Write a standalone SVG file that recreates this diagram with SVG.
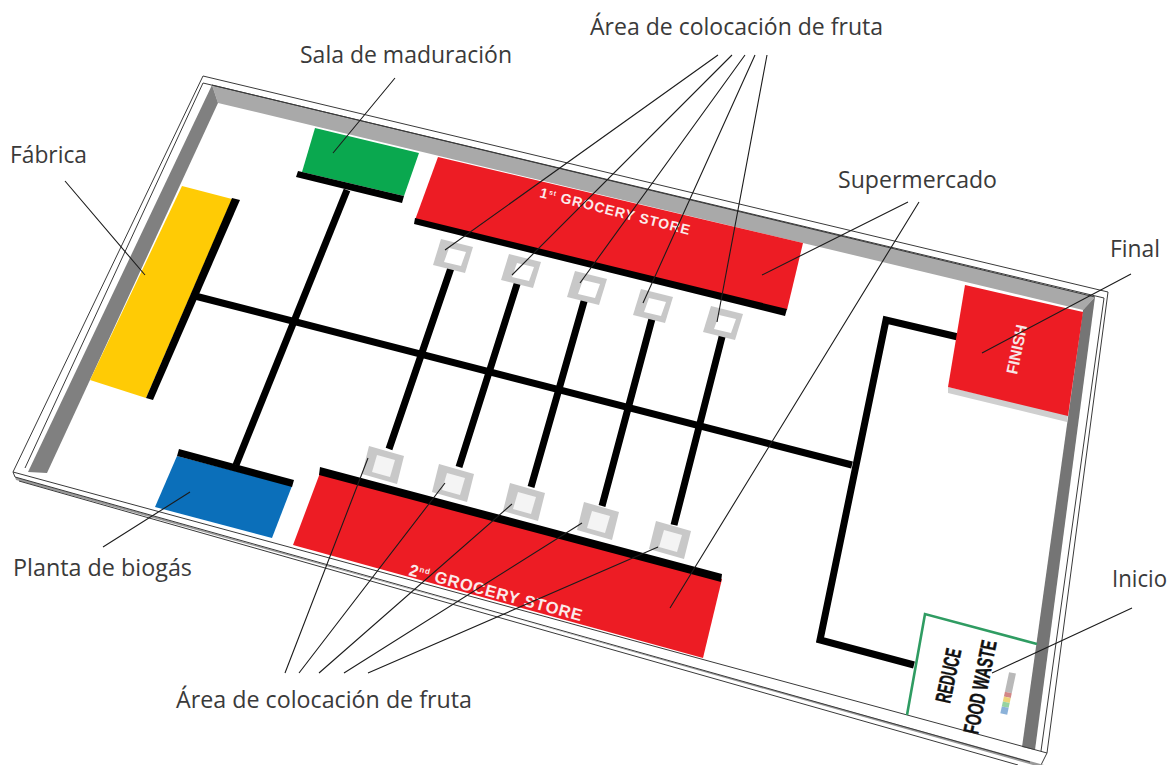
<svg xmlns="http://www.w3.org/2000/svg" width="1173" height="765" viewBox="0 0 1173 765">
<style>
.lab{font-family:"Open Sans","Noto Sans",sans-serif;font-size:23px;fill:#3a3a3a}
.edge{stroke:#3a3a3a;stroke-width:1;fill:none}
.track{stroke:#000;stroke-width:7;fill:none;stroke-linejoin:miter}
.lead{stroke:#1c1c1c;stroke-width:1.1;fill:none}
.strip{fill:#000}
.red{fill:#ed1c24}
.store{font-family:"Liberation Sans",Arial,sans-serif;font-weight:bold;fill:#fbeaea}
.cond{font-family:"Liberation Sans",Arial,sans-serif;font-weight:bold;fill:#111;stroke:#111;stroke-width:.4}
</style>
<defs>
<g id="padT"><polygon points="-17,-14 15,-6 7,20 -25,12" fill="#c8c8c8"/><polygon points="-9,-5 8,-1 3,13 -14,9" fill="#fff"/></g>
<g id="padB"><polygon points="-14,-19 21,-9 14,19 -21,9" fill="#c8c8c8"/><polygon points="-6,-10 12,-5 7,12 -11,7" fill="#f4f4f4"/></g>
</defs>
<rect width="1173" height="765" fill="#fff"/>
<g id="board">
<polygon points="203,76 1108,292 1047,753 1041,765 13,477 13,472" fill="#fff"/>
<polygon points="212,85 1095,297 1083,310 218,103" fill="#a9a9a9"/>
<polygon points="212,85 218,103 47,473 28,472" fill="#808080"/>
<polygon points="1095,297 1083,310 1022,747 1035,750" fill="#757575"/>
<path class="edge" d="M203,76L1108,292L1047,753M203,83L1104,298L1041,751M203,76L13,472M203,83L25,468M212,85L1095,297"/>
<path class="edge" d="M13,472L1047,753L1041,765M13,472L15,477"/>
<polygon points="15,477 1033,765 1044,765 16,480" fill="#9a9a9a"/>
<path class="edge" d="M15,477L1030,762M19,481L1018,765"/>
</g>
<g id="fabrica"><polygon points="182,186 232,199 146,398 90,380" fill="#ffcb05"/><polygon class="strip" points="232,198 240,200 153,400 146,398"/></g>
<g id="sala-maduracion"><polygon points="315,128 419,153 404,196 302,172" fill="#0aa84f"/><polygon class="strip" points="298,171 404,196 402,203 296,177"/></g>
<g id="connectors">
<path class="track" d="M347,190L236,465"/>
<path class="track" d="M195,296L852,465"/>
<path class="track" d="M958,337L886,320L820,640L914,665"/>
<path class="track" d="M452,265L389,449M518,281L459,467M585,298L531,487M653,315L602,506M723,333L674,525"/>
</g>
<g id="pads-top">
<use href="#padT" x="458" y="253"/><use href="#padT" x="526" y="268"/><use href="#padT" x="592" y="285"/><use href="#padT" x="658" y="303"/><use href="#padT" x="728" y="320"/>
</g>
<g id="pads-bottom">
<use href="#padB" x="383" y="465"/><use href="#padB" x="453" y="483"/><use href="#padB" x="524" y="502"/><use href="#padB" x="598" y="521"/><use href="#padB" x="670" y="540"/>
</g>
<g id="supermercado-1"><polygon class="red" points="438,157 803,243 787,310 415,220"/><polygon class="strip" points="415,218 787,309 785,316 414,224"/>
<text class="store" transform="translate(539,197) rotate(14.2)" font-size="14" letter-spacing="0.9">1<tspan font-size="7" dy="-5">st</tspan><tspan dy="5"> GROCERY STORE</tspan></text></g>
<g id="supermercado-2"><polygon class="red" points="320,473 722,579 703,658 293,545"/><polygon class="strip" points="320,467 722,574 721,582 319,475"/>
<text class="store" transform="translate(408,575) rotate(15)" font-size="16.5" letter-spacing="0.7">2<tspan font-size="8" dy="-6">nd</tspan><tspan dy="6"> GROCERY STORE</tspan></text></g>
<g id="planta-biogas"><polygon points="177,456 292,486 272,538 155,507" fill="#0b6fba"/><polygon class="strip" points="179,449 294,480 292,487 177,456"/></g>
<g id="final"><polygon points="948,387 1068,415 1067,422 948,393" fill="#cfcfcf"/><polygon class="red" points="965,285 1083,312 1068,416 948,387"/>
<text transform="translate(1017,375) rotate(-78)" font-family="Liberation Sans,Arial,sans-serif" font-weight="bold" font-size="16" fill="#f7e6e6" textLength="50" lengthAdjust="spacingAndGlyphs">FINISH</text></g>
<g id="inicio">
<path d="M907,715L925,614L1037,644" fill="none" stroke="#2f9c62" stroke-width="2.6"/>
<text class="cond" transform="translate(950,704) rotate(-78)" font-size="22" textLength="55" lengthAdjust="spacingAndGlyphs">REDUCE</text>
<text class="cond" transform="translate(978,735) rotate(-78.5)" font-size="22" textLength="95" lengthAdjust="spacingAndGlyphs">FOOD WASTE</text>
<g transform="translate(1013,673) rotate(12)" opacity=".8"><rect x="-4" y="0" width="7" height="20" fill="#a8a8a8"/><rect x="-4" y="20" width="7" height="5" fill="#c86a6a"/><rect x="-4" y="25" width="7" height="5" fill="#e8c95a"/><rect x="-4" y="30" width="7" height="5" fill="#7cc98a"/><rect x="-4" y="35" width="7" height="7" fill="#6f9fd0"/></g>
</g>
<g id="leaders">
<path class="lead" d="M65,181L145,275M395,78L333,153M1131,274L982,353M1132,608L992,673M103,547L190,492"/>
<path class="lead" d="M908,202L762,275M919,202L670,608"/>
<path class="lead" d="M718,55L445,250M732,55L512,275M745,55L580,283M755,55L643,303M767,55L717,322"/>
<path class="lead" d="M285,673L368,458M299,673L445,483M319,673L512,504M344,673L582,523M368,673L658,547"/>
</g>
<g id="labels">
<text class="lab" x="590" y="35" textLength="293" lengthAdjust="spacingAndGlyphs">Área de colocación de fruta</text>
<text class="lab" x="300" y="63" textLength="212" lengthAdjust="spacingAndGlyphs">Sala de maduración</text>
<text class="lab" x="10" y="163" textLength="77" lengthAdjust="spacingAndGlyphs">Fábrica</text>
<text class="lab" x="838" y="188" textLength="159" lengthAdjust="spacingAndGlyphs">Supermercado</text>
<text class="lab" x="1110" y="257" textLength="50" lengthAdjust="spacingAndGlyphs">Final</text>
<text class="lab" x="1112" y="587" textLength="55" lengthAdjust="spacingAndGlyphs">Inicio</text>
<text class="lab" x="13" y="576" textLength="179" lengthAdjust="spacingAndGlyphs">Planta de biogás</text>
<text class="lab" x="176" y="708" textLength="296" lengthAdjust="spacingAndGlyphs">Área de colocación de fruta</text>
</g>
</svg>
